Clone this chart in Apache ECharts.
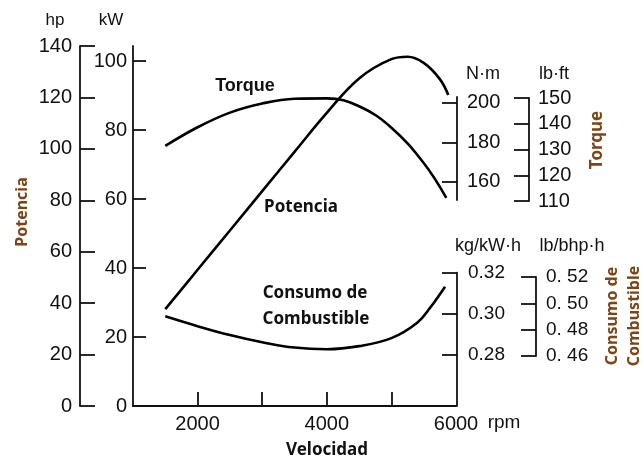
<!DOCTYPE html>
<html>
<head>
<meta charset="utf-8">
<script src="https://cdn.jsdelivr.net/npm/echarts@6/dist/echarts.min.js"></script>
<style>
  html, body { margin: 0; padding: 0; background: #fff; }
  #chart { width: 642px; height: 461px; }
</style>
</head>
<body>
<div id="chart"></div>
<script>
// curvas
const torqueRpm = [1500, 2000, 2500, 3000, 3500, 4000, 4500, 5000, 5500, 5850];
const torqueNm = [178.2, 187.6, 195.0, 199.6, 202.0, 202.2, 198.2, 187.4, 169.6, 152.0];

const powerRpm = [1500, 2000, 2500, 3000, 3500, 4000, 4500, 5000, 5250, 5500, 5750, 5880];
const powerKw = [28.1, 39.5, 50.9, 62.3, 73.7, 85.0, 95.0, 100.6, 101.3, 99.5, 94.8, 90.2];

const fuelRpm = [1500, 2000, 2500, 3000, 3500, 4000, 4500, 5000, 5400, 5600, 5830];
const fuelKg = [0.2988, 0.2940, 0.2897, 0.2862, 0.2836, 0.2828, 0.2843, 0.2882, 0.2957, 0.3030, 0.3132];

// escalas
const rpmTicks = [2000, 3000, 4000, 5000];
const rpmLabels = [2000, 4000, 6000];
const kwTicks = [0, 20, 40, 60, 80, 100];
const nmTicks = [160, 180, 200];
const lbftTicks = [110, 120, 130, 140, 150];
const kgTicks = [0.28, 0.30, 0.32];
const lbhpTicks = [0.46, 0.48, 0.50, 0.52];

const pairs = (xs, ys) => xs.map((x, i) => [x, ys[i]]);

const numFont = { color: '#111', fontFamily: 'Liberation Sans', fontSize: 20 };
const line = { show: true, lineStyle: { color: '#111', width: 1.8 } };
const tick = (len) => ({ show: true, inside: true, length: len, lineStyle: { color: '#111', width: 1.8 } });

function smallGrid(left, top, height) {
  return { left: left, top: top, width: 1, height: height };
}
function dummyX(gridIndex) {
  return { type: 'value', gridIndex: gridIndex, show: false, min: 0, max: 1 };
}
function sideAxis(gridIndex, min, max, ticks, fmt, margin, size) {
  return {
    type: 'value', gridIndex: gridIndex, position: 'right', min: min, max: max,
    axisLine: line,
    axisTick: Object.assign(tick(15), { customValues: ticks }),
    axisLabel: Object.assign({}, numFont, { customValues: ticks, margin: margin, formatter: fmt, fontSize: size }),
    splitLine: { show: false }
  };
}

function txt(x, y, text, size, bold, opts) {
  return Object.assign({
    type: 'text', x: x, y: y,
    style: {
      text: text, fill: (opts && opts.fill) || '#111',
      font: (bold ? 'bold ' : '') + size + 'px ' + ((opts && opts.family) || 'Liberation Sans'),
      textAlign: 'center', textVerticalAlign: 'middle'
    }
  }, opts && opts.rotation ? { rotation: opts.rotation } : {});
}

const labelColor = '#7e4413';
const sans = 'Noto Sans';
const curve = { color: '#000', width: 2.6 };

const chart = echarts.init(document.getElementById('chart'));
chart.setOption({
  animation: false,
  grid: [
    { left: 133, top: 46, width: 323, height: 360 },
    smallGrid(457, 97, 103),
    smallGrid(529, 98, 103),
    smallGrid(457, 272.7, 133.3),
    smallGrid(536, 277, 79)
  ],
  xAxis: [
    {
      type: 'value', gridIndex: 0, min: 1000, max: 6000,
      axisLine: line,
      axisTick: Object.assign(tick(14), { customValues: rpmTicks }),
      axisLabel: Object.assign({}, numFont, { customValues: rpmLabels, margin: 8, formatter: (v) => String(v) }),
      splitLine: { show: false }
    },
    dummyX(1), dummyX(2), dummyX(3), dummyX(4)
  ],
  yAxis: [
    {
      type: 'value', gridIndex: 0, position: 'left', offset: 53, min: 0, max: 140, interval: 20,
      axisLine: line, axisTick: tick(15),
      axisLabel: Object.assign({}, numFont, { margin: 8 }),
      splitLine: { show: false }
    },
    {
      type: 'value', gridIndex: 0, position: 'left', offset: 0, min: 0, max: 104.4,
      axisLine: line,
      axisTick: Object.assign(tick(13), { customValues: kwTicks }),
      axisLabel: Object.assign({}, numFont, { customValues: kwTicks, margin: 6 }),
      splitLine: { show: false }
    },
    { type: 'value', gridIndex: 0, show: false, min: 47.0, max: 228.6, splitLine: { show: false } },
    { type: 'value', gridIndex: 0, show: false, min: 0.2552, max: 0.4302, splitLine: { show: false } },
    sideAxis(1, 150.9, 202.9, nmTicks, (v) => String(v), 9, 20),
    sideAxis(2, 110, 150, lbftTicks, (v) => String(v), 8, 20),
    sideAxis(3, 0.2552, 0.32, kgTicks, (v) => v.toFixed(2), 10, 19),
    sideAxis(4, 0.46, 0.52, lbhpTicks, (v) => v.toFixed(2).replace('.', '. '), 9, 19)
  ],
  series: [
    {
      name: 'Torque', type: 'line', xAxisIndex: 0, yAxisIndex: 2, smooth: 0.4, symbol: 'none',
      lineStyle: curve, data: pairs(torqueRpm, torqueNm)
    },
    {
      name: 'Potencia', type: 'line', xAxisIndex: 0, yAxisIndex: 1, smooth: 0.4, symbol: 'none',
      lineStyle: curve, data: pairs(powerRpm, powerKw)
    },
    {
      name: 'Consumo de Combustible', type: 'line', xAxisIndex: 0, yAxisIndex: 3, smooth: 0.4, symbol: 'none',
      lineStyle: curve, data: pairs(fuelRpm, fuelKg)
    }
  ],
  graphic: [
    txt(55, 20, 'hp', 17, false),
    txt(111, 20, 'kW', 17, false),
    txt(483, 74, 'N·m', 18, false),
    txt(554, 74, 'lb·ft', 18, false),
    txt(488, 246, 'kg/kW·h', 18, false),
    txt(572, 246, 'lb/bhp·h', 18, false),
    txt(504, 423, 'rpm', 19, false),
    txt(245, 86, 'Torque', 18, true),
    txt(301, 207, 'Potencia', 17, true, { family: sans }),
    txt(315, 293, 'Consumo de', 17, true, { family: sans }),
    txt(316, 319, 'Combustible', 17, true, { family: sans }),
    txt(327, 450, 'Velocidad', 17, true, { family: sans }),
    txt(22, 212, 'Potencia', 16, true, { family: sans, fill: labelColor, rotation: Math.PI / 2 }),
    txt(597, 140, 'Torque', 17, true, { family: sans, fill: labelColor, rotation: Math.PI / 2 }),
    txt(612, 316, 'Consumo de', 16, true, { family: sans, fill: labelColor, rotation: Math.PI / 2 }),
    txt(634, 316, 'Combustible', 16, true, { family: sans, fill: labelColor, rotation: Math.PI / 2 })
  ]
});
</script>
</body>
</html>
